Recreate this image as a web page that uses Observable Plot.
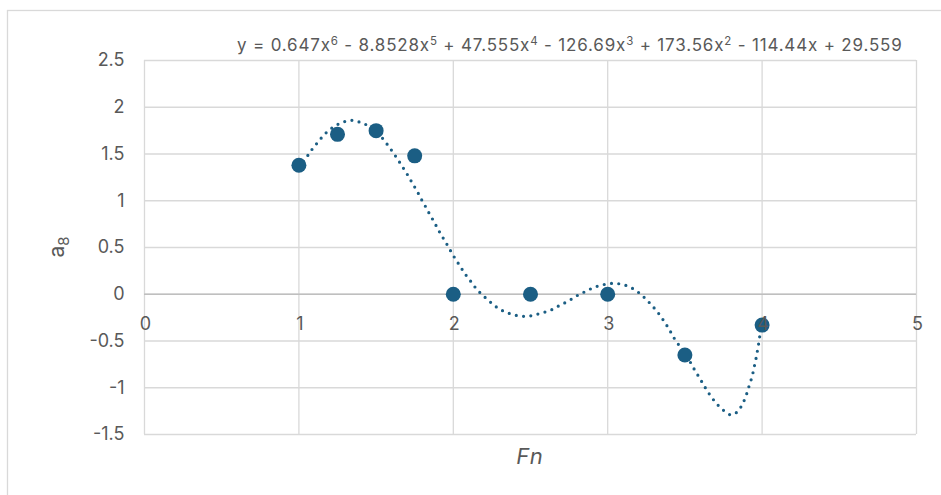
<!DOCTYPE html>
<html>
<head>
<meta charset="utf-8">
<script src="https://cdn.jsdelivr.net/npm/d3@7"></script>
<script src="https://cdn.jsdelivr.net/npm/@observablehq/plot@0.6"></script>
<style>
  html, body { margin: 0; padding: 0; background: #ffffff; }
  #chart { width: 941px; height: 495px; overflow: hidden; }
  svg { display: block; }
  svg text { font-variant: normal; }
</style>
</head>
<body>
<div id="chart"></div>
<script>
// Data points (Fn, a8)
const fnValues = [1, 1.25, 1.5, 1.75, 2, 2.5, 3, 3.5, 4];
const a8Values = [1.38, 1.71, 1.75, 1.48, 0, 0, 0, -0.65, -0.33];

// Trendline
const trendX = [1.00,1.06,1.09,1.125,1.16,1.20,1.245,1.295,1.345,1.395,1.445,1.50,1.53,1.562,1.594,1.624,1.654,1.683,1.711,1.737,1.765,1.79,1.816,1.842,1.868,1.894,1.92,1.948,1.974,2.0,2.029,2.058,2.087,2.121,2.15,2.188,2.231,2.273,2.318,2.365,2.416,2.468,2.519,2.571,2.625,2.674,2.721,2.768,2.813,2.86,2.907,2.956,3.012,3.063,3.115,3.166,3.209,3.249,3.285,3.319,3.352,3.381,3.408,3.435,3.47,3.5,3.533,3.56,3.589,3.616,3.643,3.674,3.708,3.751,3.798,3.842,3.871,3.894,3.91,3.927,3.941,3.952,3.963,3.972,3.981,3.988,4.0];
const trendY = [1.36,1.49,1.56,1.63,1.70,1.76,1.81,1.846,1.86,1.84,1.805,1.74,1.69,1.625,1.554,1.482,1.407,1.332,1.257,1.182,1.104,1.025,0.95,0.871,0.796,0.718,0.639,0.564,0.489,0.414,0.339,0.264,0.193,0.121,0.057,-0.007,-0.071,-0.129,-0.175,-0.207,-0.229,-0.236,-0.225,-0.2,-0.175,-0.132,-0.093,-0.05,-0.004,0.032,0.071,0.096,0.114,0.114,0.096,0.057,0.007,-0.054,-0.118,-0.182,-0.257,-0.329,-0.404,-0.482,-0.565,-0.646,-0.721,-0.8,-0.879,-0.954,-1.029,-1.104,-1.175,-1.243,-1.29,-1.254,-1.179,-1.096,-1.011,-0.925,-0.839,-0.754,-0.668,-0.582,-0.496,-0.411,-0.33];

// Ticks
const xTicks = [0, 1, 2, 3, 4, 5];
const yTicks = [-1.5, -1, -0.5, 0, 0.5, 1, 1.5, 2, 2.5];

// Trendline equation terms
const eqSigns = ["", "-", "+", "-", "+", "-", "+"];
const eqCoefs = ["0.647", "8.8528", "47.555", "126.69", "173.56", "114.44", "29.559"];
const eqPowers = [6, 5, 4, 3, 2, 1, 0];

const points = fnValues.map((x, i) => ({x, y: a8Values[i]}));
const trend = trendX.map((x, i) => ({x, y: trendY[i]}));

const blue = "#1b5e84";
const grid = "#d9d9d9";
const textColor = "#595959";
const font = "Inter, 'Open Sans', sans-serif";

const plot = Plot.plot({
  width: 941,
  height: 495,
  marginLeft: 144,
  marginRight: 25,
  marginTop: 60,
  marginBottom: 61,
  style: {fontFamily: font, background: "#ffffff", overflow: "visible"},
  x: {domain: [0, 5], ticks: xTicks, axis: null},
  y: {domain: [-1.5, 2.5], ticks: yTicks, axis: null},
  marks: [
    Plot.gridY(yTicks, {stroke: grid, strokeOpacity: 1, strokeWidth: 1.3}),
    Plot.gridX(xTicks, {stroke: grid, strokeOpacity: 1, strokeWidth: 1.3}),
    Plot.ruleY([0], {stroke: "#bfbfbf", strokeWidth: 1.5}),
    Plot.axisY(yTicks, {tickSize: 0, tickPadding: 20, fontSize: 18, fill: textColor, fontVariant: "normal", tickFormat: d => String(d), label: null, ariaLabel: "ytick"}),
    Plot.line(trend, {x: "x", y: "y", curve: "catmull-rom", stroke: blue, strokeWidth: 3.2, strokeDasharray: "0 7.3", strokeLinecap: "round"}),
    Plot.dot(points, {x: "x", y: "y", r: 7.5, fill: blue, stroke: "none"}),
    Plot.text(xTicks, {x: d => d, y: () => 0, text: d => String(d), dy: 30, dx: 1, fontSize: 18, fill: textColor, ariaLabel: "xtick"})
  ]
});

const svg = d3.select(plot);
svg.selectAll('[aria-label="ytick"] text, [aria-label="xtick"] text').attr("letter-spacing", "1.6px");

// outer chart frame
svg.insert("rect", ":first-child")
  .attr("x", 7.5).attr("y", 10.5).attr("width", 1000).attr("height", 1000)
  .attr("fill", "none").attr("stroke", "#d9d9d9").attr("stroke-width", 1.3);

// equation label
const eq = svg.append("text")
  .attr("x", 237).attr("y", 51)
  .attr("text-anchor", "start")
  .attr("letter-spacing", "0.82px")
  .attr("font-size", 17).attr("fill", textColor).attr("font-family", font);
let raised = false;
eqCoefs.forEach((c, i) => {
  const p = eqPowers[i];
  const prefix = i === 0 ? "y = " : " " + eqSigns[i] + " ";
  const t = eq.append("tspan").text(prefix + c + (p > 0 ? "x" : ""));
  if (raised) { t.attr("dy", 6); raised = false; }
  if (p > 1) {
    eq.append("tspan").attr("dy", -6).attr("font-size", 11.5).text(String(p));
    raised = true;
  }
});

// y axis title a8
const yt = svg.append("text")
  .attr("transform", "translate(64,247) rotate(-90)")
  .attr("text-anchor", "middle")
  .attr("font-size", 21).attr("fill", textColor).attr("font-family", font);
yt.append("tspan").text("a");
yt.append("tspan").attr("dy", 5).attr("font-size", 15).text("8");

// x axis title Fn
svg.append("text")
  .attr("x", 530).attr("y", 464)
  .attr("text-anchor", "middle")
  .attr("font-size", 22).attr("font-style", "italic").attr("letter-spacing", "1px")
  .attr("fill", textColor).attr("font-family", font)
  .text("Fn");

document.getElementById("chart").appendChild(plot);
</script>
</body>
</html>
